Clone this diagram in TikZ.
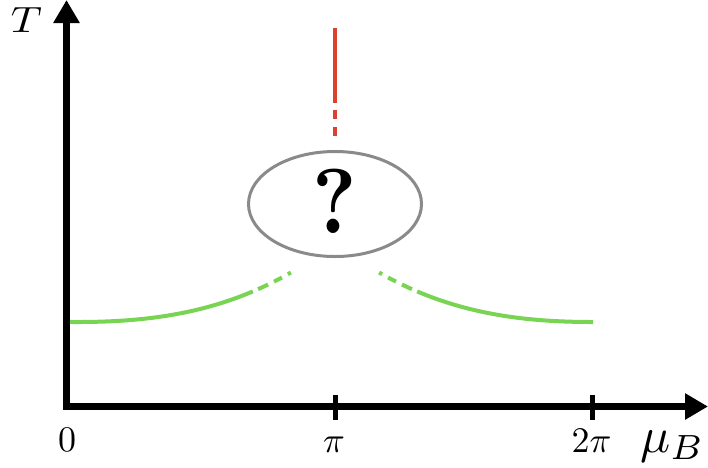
\RequirePackage{fix-cm}
\documentclass[tikz,border=0pt]{standalone}
\usetikzlibrary{arrows.meta,shapes.geometric}
\definecolor{curvegreen}{HTML}{78D452}
\definecolor{linered}{HTML}{DA4130}
\definecolor{ovalgray}{HTML}{8A8A8A}
\tikzset{
  axisline/.style={line width=6.5pt, line join=miter,
    {Triangle[length=23pt,width=25pt]}-{Triangle[length=23pt,width=25pt]}},
  tickmark/.style={line width=5pt},
  greencurve/.style={curvegreen, line width=4pt},
  redline/.style={linered, line width=4.5pt},
  axislabel/.style={inner sep=0pt, anchor=base},
}
\newcommand{\biglab}[1]{\scalebox{3.6}{#1}}
\begin{document}
\begin{tikzpicture}[x=1pt,y=-1pt]
\useasboundingbox (0,0) rectangle (708,467);
% green curves
\draw[greencurve] plot[domain=-0.05:0.826, samples=50, variable=\t] ({77+213*\t}, {322-49*\t*\t*(0.516+0.484*\t)});
\draw[greencurve] plot[domain=0.85:0.897, samples=6, variable=\t] ({77+213*\t}, {322-49*\t*\t*(0.516+0.484*\t)});
\draw[greencurve] plot[domain=0.925:0.962, samples=6, variable=\t] ({77+213*\t}, {322-49*\t*\t*(0.516+0.484*\t)});
\draw[greencurve] plot[domain=0.99:1.004, samples=3, variable=\t] ({77+213*\t}, {322-49*\t*\t*(0.516+0.484*\t)});
\draw[greencurve] plot[domain=0:0.826, samples=50, variable=\t] ({593-213*\t}, {322-49*\t*\t*(0.516+0.484*\t)});
\draw[greencurve] plot[domain=0.85:0.897, samples=6, variable=\t] ({593-213*\t}, {322-49*\t*\t*(0.516+0.484*\t)});
\draw[greencurve] plot[domain=0.925:0.962, samples=6, variable=\t] ({593-213*\t}, {322-49*\t*\t*(0.516+0.484*\t)});
\draw[greencurve] plot[domain=0.99:1.004, samples=3, variable=\t] ({593-213*\t}, {322-49*\t*\t*(0.516+0.484*\t)});
% red line
\coordinate (r0) at (335,28);
\coordinate (r1) at (335,103);
\coordinate (r2) at (335,110);
\coordinate (r3) at (335,119);
\coordinate (r4) at (335,127);
\coordinate (r5) at (335,136);
\draw[redline] (r0) -- (r1);
\draw[redline] (r2) -- (r3);
\draw[redline] (r4) -- (r5);
% oval with question mark
\node (oval) [draw=ovalgray, line width=3pt, ellipse, minimum width=173pt, minimum height=105pt, inner sep=0pt] at (335,204) {};
\node (qm) [inner sep=0pt, anchor=base] at (335,233) {\scalebox{8.2}[9.2]{\bfseries ?}};
% axes
\coordinate (ytip) at (66.5,0);
\coordinate (origin) at (66.5,406.5);
\coordinate (xtip) at (708,406.5);
\draw[axisline] (ytip) -- (origin) -- (xtip);
% ticks
\coordinate (t1a) at (335,395);
\coordinate (t1b) at (335,420);
\coordinate (t2a) at (592,395);
\coordinate (t2b) at (592,420);
\draw[tickmark] (t1a) -- (t1b);
\draw[tickmark] (t2a) -- (t2b);
% labels
\node (lT) [axislabel] at (26.5,32) {\scalebox{4.3}[3.65]{$T$}};
\node (l0) [axislabel] at (67,451) {\biglab{$0$}};
\node (lpi) [axislabel] at (334,452) {\biglab{$\pi$}};
\node (l2pi) [axislabel] at (591.5,452) {\biglab{$2\pi$}};
\node (lmu) [inner sep=0pt, anchor=base west] at (640,452) {\scalebox{5}{$\mu_B$}};
\end{tikzpicture}
\end{document}
